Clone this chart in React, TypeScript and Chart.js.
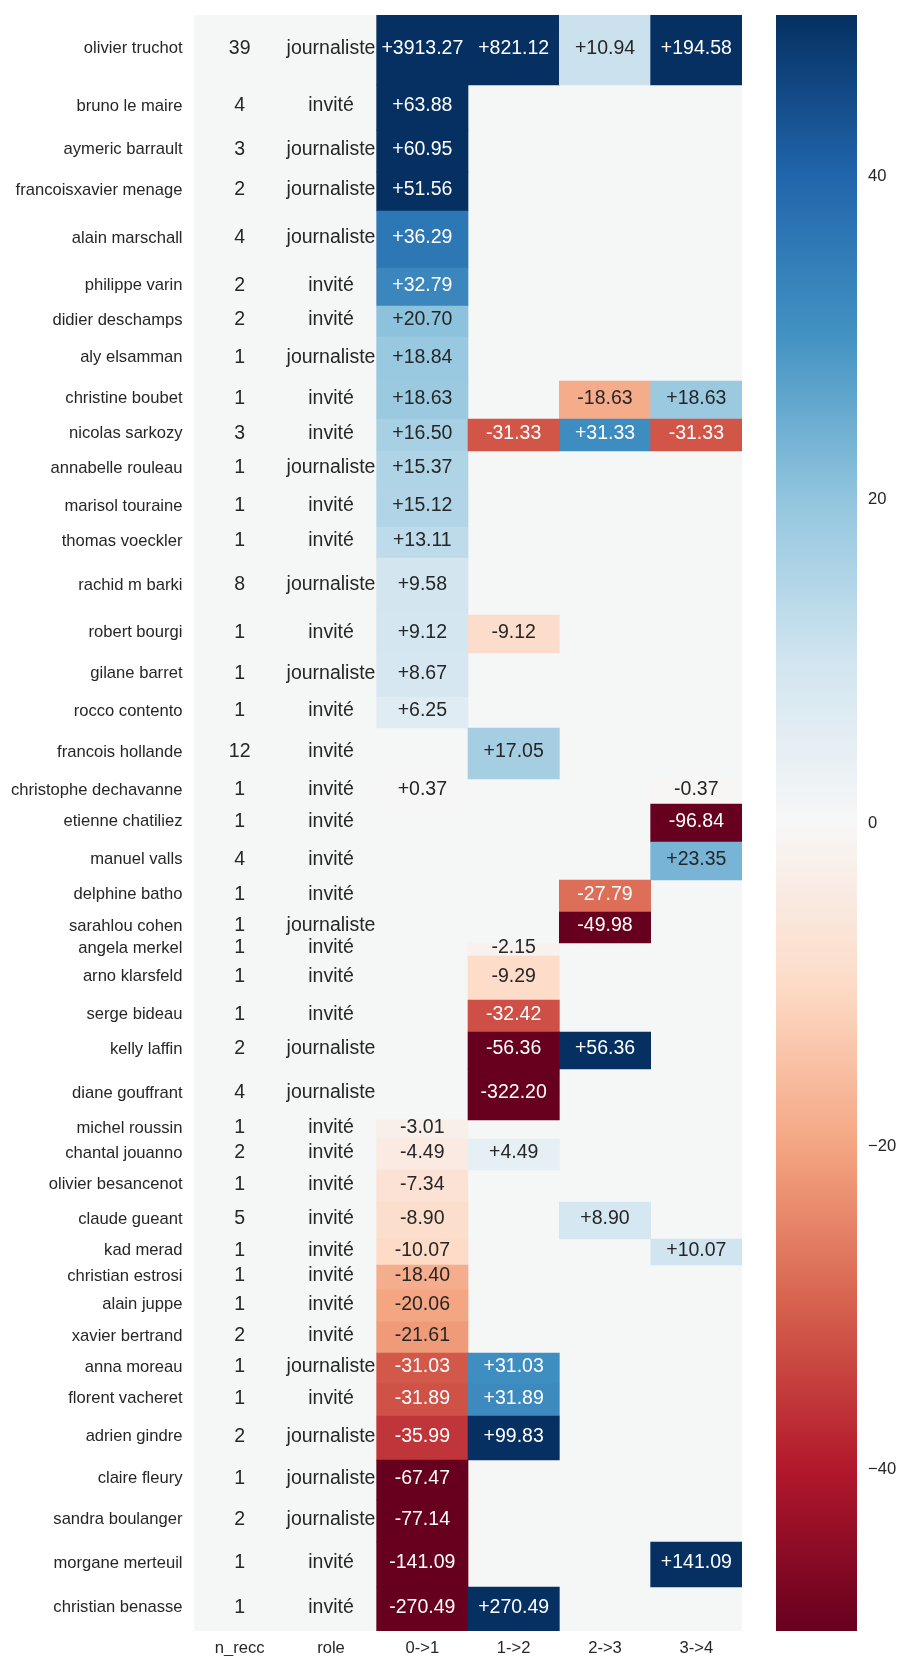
import React, { useEffect, useRef } from "react";
import { Chart, registerables } from "chart.js";

Chart.register(...registerables);

// ---------- data ----------
const names = [
  "olivier truchot", "bruno le maire", "aymeric barrault", "francoisxavier menage",
  "alain marschall", "philippe varin", "didier deschamps", "aly elsamman",
  "christine boubet", "nicolas sarkozy", "annabelle rouleau", "marisol touraine",
  "thomas voeckler", "rachid m barki", "robert bourgi", "gilane barret",
  "rocco contento", "francois hollande", "christophe dechavanne", "etienne chatiliez",
  "manuel valls", "delphine batho", "sarahlou cohen", "angela merkel",
  "arno klarsfeld", "serge bideau", "kelly laffin", "diane gouffrant",
  "michel roussin", "chantal jouanno", "olivier besancenot", "claude gueant",
  "kad merad", "christian estrosi", "alain juppe", "xavier bertrand",
  "anna moreau", "florent vacheret", "adrien gindre", "claire fleury",
  "sandra boulanger", "morgane merteuil", "christian benasse",
];

const nRecc = [
  39, 4, 3, 2, 4, 2, 2, 1, 1, 3, 1, 1, 1, 8, 1, 1, 1, 12, 1, 1, 4, 1,
  1, 1, 1, 1, 2, 4, 1, 2, 1, 5, 1, 1, 1, 2, 1, 1, 2, 1, 2, 1, 1,
];

const roles = [
  "journaliste", "invité", "journaliste", "journaliste", "journaliste", "invité",
  "invité", "journaliste", "invité", "invité", "journaliste", "invité", "invité",
  "journaliste", "invité", "journaliste", "invité", "invité", "invité", "invité",
  "invité", "invité", "journaliste", "invité", "invité", "invité", "journaliste",
  "journaliste", "invité", "invité", "invité", "invité", "invité", "invité",
  "invité", "invité", "journaliste", "invité", "journaliste", "journaliste",
  "journaliste", "invité", "invité",
];

const t01: (number | null)[] = [
  3913.27, 63.88, 60.95, 51.56, 36.29, 32.79, 20.7, 18.84, 18.63, 16.5, 15.37,
  15.12, 13.11, 9.58, 9.12, 8.67, 6.25, null, 0.37, null, null, null, null, null,
  null, null, null, null, -3.01, -4.49, -7.34, -8.9, -10.07, -18.4, -20.06,
  -21.61, -31.03, -31.89, -35.99, -67.47, -77.14, -141.09, -270.49,
];

const t12: (number | null)[] = [
  821.12, null, null, null, null, null, null, null, null, -31.33, null, null,
  null, null, -9.12, null, null, 17.05, null, null, null, null, null, -2.15,
  -9.29, -32.42, -56.36, -322.2, null, 4.49, null, null, null, null, null, null,
  31.03, 31.89, 99.83, null, null, null, 270.49,
];

const t23: (number | null)[] = [
  10.94, null, null, null, null, null, null, null, -18.63, 31.33, null, null,
  null, null, null, null, null, null, null, null, null, -27.79, -49.98, null,
  null, null, 56.36, null, null, null, null, 8.9, null, null, null, null, null,
  null, null, null, null, null, null,
];

const t34: (number | null)[] = [
  194.58, null, null, null, null, null, null, null, 18.63, -31.33, null, null,
  null, null, null, null, null, null, -0.37, -96.84, 23.35, null, null, null,
  null, null, null, null, null, null, null, null, 10.07, null, null, null, null,
  null, null, null, null, 141.09, null,
];

// extent of each row along the (non-uniform) row axis
const rowSpan = [
  70, 45, 42, 39, 57, 38, 31, 44, 38, 32, 37, 39, 31, 57, 38, 44, 31, 51, 25,
  38, 38, 32, 31, 13, 44, 32, 37, 51, 19, 31, 32, 37, 26, 25, 32, 31, 31, 32,
  44, 40, 42, 45, 44,
];

const columns = ["n_recc", "role", "0->1", "1->2", "2->3", "3->4"];
const colorbarTicks = [40, 20, 0, -20, -40];
const vmin = -50;
const vmax = 50;

// ---------- helpers ----------
const RDBU = [
  "#67001f", "#b2182b", "#d6604d", "#f4a582", "#fddbc7", "#f7f7f7",
  "#d1e5f0", "#92c5de", "#4393c3", "#2166ac", "#053061",
];
const hexRgb = (h: string) => [
  parseInt(h.slice(1, 3), 16),
  parseInt(h.slice(3, 5), 16),
  parseInt(h.slice(5, 7), 16),
];
const STOPS = RDBU.map(hexRgb);

function cmap(v: number): number[] {
  const c = Math.min(vmax, Math.max(vmin, v));
  const t = (c - vmin) / (vmax - vmin);
  const pos = t * (STOPS.length - 1);
  const i = Math.min(STOPS.length - 2, Math.floor(pos));
  const f = pos - i;
  return [0, 1, 2].map((k) => STOPS[i][k] + (STOPS[i + 1][k] - STOPS[i][k]) * f);
}
const rgbStr = (c: number[]) =>
  `rgb(${Math.round(c[0])},${Math.round(c[1])},${Math.round(c[2])})`;
function luminance(c: number[]) {
  const lin = (x: number) => {
    x /= 255;
    return x <= 0.03928 ? x / 12.92 : Math.pow((x + 0.055) / 1.055, 2.4);
  };
  return 0.2126 * lin(c[0]) + 0.7152 * lin(c[1]) + 0.0722 * lin(c[2]);
}
const fmt = (v: number) => (v >= 0 ? "+" : "") + v.toFixed(2);

const FAMILY = "'Liberation Sans', Arial, sans-serif";
const DARK = "#262626";
const BG = "#f5f6f6";
const TEXT_SHIFT = -1.5;

const zeroPad = (a: any) => {
  a.paddingTop = 0;
  a.paddingBottom = 0;
  a.paddingLeft = 0;
  a.paddingRight = 0;
};

export default function App() {
  const ref = useRef<HTMLCanvasElement>(null);

  useEffect(() => {
    if (!ref.current) return;
    const edges = [0];
    rowSpan.forEach((s) => edges.push(edges[edges.length - 1] + s));
    const total = edges[edges.length - 1];
    const centers = rowSpan.map((_, i) => (edges[i] + edges[i + 1]) / 2);
    const transitions = [t01, t12, t23, t34];

    const cells: any[] = [];
    transitions.forEach((arr, c) =>
      arr.forEach((v, i) => {
        if (v !== null) cells.push({ x: columns[c + 2], y: [edges[i], edges[i + 1]], v });
      })
    );

    const bgPlugin = {
      id: "bg",
      beforeDatasetsDraw(chart: any) {
        const { ctx, chartArea } = chart;
        ctx.save();
        ctx.fillStyle = BG;
        ctx.fillRect(chartArea.left, chartArea.top, chartArea.right - chartArea.left, chartArea.bottom - chartArea.top);
        ctx.restore();
      },
    };

    const annotPlugin = {
      id: "annot",
      afterDatasetsDraw(chart: any) {
        const { ctx } = chart;
        const xs = chart.scales.x;
        const ys = chart.scales.y;
        ctx.save();
        ctx.font = `19.5px ${FAMILY}`;
        ctx.textAlign = "center";
        ctx.textBaseline = "middle";
        names.forEach((_, i) => {
          const yc = ys.getPixelForValue(centers[i]) + TEXT_SHIFT;
          ctx.fillStyle = DARK;
          ctx.fillText(String(nRecc[i]), xs.getPixelForValue(0), yc);
          ctx.fillText(roles[i], xs.getPixelForValue(1), yc);
          transitions.forEach((arr, c) => {
            const v = arr[i];
            if (v === null) return;
            const col = cmap(v);
            ctx.fillStyle = luminance(col) > 0.408 ? DARK : "#ffffff";
            ctx.fillText(fmt(v), xs.getPixelForValue(c + 2), yc);
          });
        });
        ctx.restore();
      },
    };

    const colorbarPlugin = {
      id: "colorbar",
      afterDraw(chart: any) {
        const { ctx, chartArea } = chart;
        const cb = chart.scales.cb;
        const yTop = cb.getPixelForValue(vmax);
        const yBot = cb.getPixelForValue(vmin);
        const x0 = chartArea.right + 34;
        const w = 81;
        const g = ctx.createLinearGradient(0, yBot, 0, yTop);
        RDBU.forEach((c, i) => g.addColorStop(i / (RDBU.length - 1), c));
        ctx.save();
        ctx.fillStyle = g;
        ctx.fillRect(x0, yTop, w, yBot - yTop);
        ctx.restore();
      },
    };

    const chart = new Chart(ref.current, {
      type: "bar",
      data: {
        labels: columns,
        datasets: [
          {
            data: cells,
            backgroundColor: (ctx: any) => (ctx.raw ? rgbStr(cmap(ctx.raw.v)) : "transparent"),
            borderWidth: 0,
            barPercentage: 1,
            categoryPercentage: 1,
          } as any,
        ],
      },
      options: {
        responsive: false,
        animation: false,
        devicePixelRatio: 1,
        layout: { padding: { top: 15, left: 0, right: 0, bottom: 0 } },
        plugins: { legend: { display: false }, tooltip: { enabled: false } },
        scales: {
          x: {
            type: "category",
            position: "bottom",
            grid: { display: false, drawTicks: false },
            border: { display: false },
            ticks: {
              font: { family: FAMILY, size: 16.6 },
              color: DARK,
              padding: 7,
              maxRotation: 0,
              autoSkip: false,
            },
            afterFit: (a: any) => {
              a.height = 25;
              zeroPad(a);
            },
          },
          y: {
            type: "linear",
            position: "left",
            reverse: true,
            min: 0,
            max: total,
            grid: { display: false, drawTicks: false },
            border: { display: false },
            afterBuildTicks: (a: any) => {
              a.ticks = centers.map((v) => ({ value: v }));
            },
            ticks: {
              autoSkip: false,
              callback: (_v: any, i: number) => names[i],
              font: { family: FAMILY, size: 16.6 },
              color: DARK,
              padding: 11.5,
              labelOffset: TEXT_SHIFT,
            },
            afterFit: (a: any) => {
              a.width = 194;
              zeroPad(a);
            },
          },
          cb: {
            type: "linear",
            position: "right",
            min: vmin,
            max: vmax,
            grid: { display: false, drawTicks: false },
            border: { display: false },
            afterBuildTicks: (a: any) => {
              a.ticks = colorbarTicks.map((v) => ({ value: v }));
            },
            ticks: {
              autoSkip: false,
              callback: (v: any) => (v < 0 ? "\u2212" + Math.abs(v) : String(v)),
              font: { family: FAMILY, size: 16.6 },
              color: DARK,
              padding: 126,
            },
            afterFit: (a: any) => {
              a.width = 155;
              zeroPad(a);
            },
          },
        },
      } as any,
      plugins: [bgPlugin, annotPlugin, colorbarPlugin],
    });
    return () => chart.destroy();
  }, []);

  return (
    <div style={{ position: "absolute", left: 0, top: 0, width: 897, height: 1656 }}>
      <canvas ref={ref} width={897} height={1656} style={{ width: 897, height: 1656, display: "block" }} />
    </div>
  );
}
